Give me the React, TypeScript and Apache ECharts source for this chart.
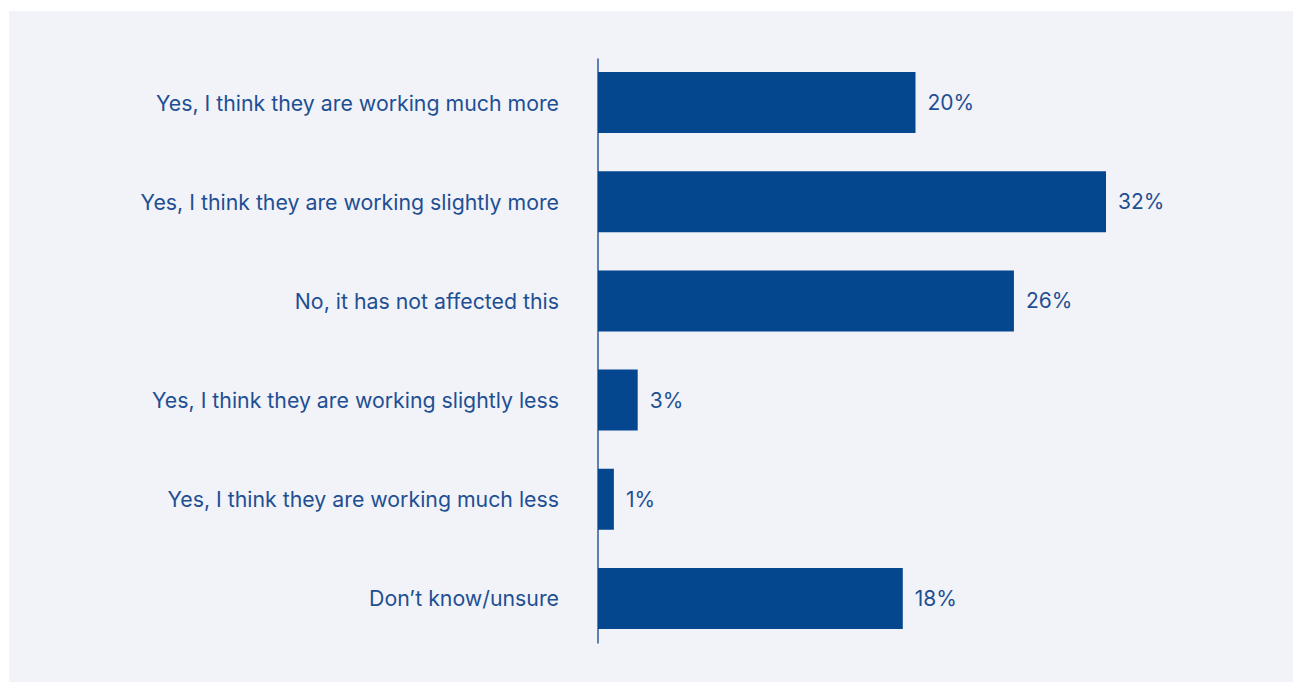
import React, { useEffect, useRef } from "react";
import * as echarts from "echarts";

const categories = [
  "Yes, I think they are working much more",
  "Yes, I think they are working slightly more",
  "No, it has not affected this",
  "Yes, I think they are working slightly less",
  "Yes, I think they are working much less",
  "Don\u2019t know/unsure",
];
// bar lengths as drawn in the picture
const values = [20, 32, 26.2, 2.5, 1, 19.2];
// printed value labels
const valueLabels = ["20%", "32%", "26%", "3%", "1%", "18%"];

export default function App() {
  const ref = useRef<HTMLDivElement>(null);
  useEffect(() => {
    if (!ref.current) return;
    const chart = echarts.init(ref.current, undefined, { renderer: "svg" });
    chart.setOption({
      animation: false,
      backgroundColor: "#f1f3f8",
      textStyle: { fontFamily: "Inter" },
      grid: [
        { left: 589, top: 42, width: 635, height: 595, containLabel: false },
        { left: 589, top: 48, width: 635, height: 584, containLabel: false },
      ],
      xAxis: [
        { type: "value", min: 0, max: 40, show: false, gridIndex: 0 },
        { type: "value", min: 0, max: 40, show: false, gridIndex: 1 },
      ],
      yAxis: [
        {
          type: "category",
          gridIndex: 0,
          data: categories,
          inverse: true,
          axisLine: { show: false },
          axisTick: { show: false },
          axisLabel: {
            color: "#1f4f93",
            fontSize: 21.3,
            fontFamily: "Inter",
            margin: 39,
            padding: [0, 0, 4, 0],
          },
          splitLine: { show: false },
        },
        {
          type: "category",
          gridIndex: 1,
          data: categories,
          inverse: true,
          axisLine: { show: true, lineStyle: { color: "#2c5a9c", width: 1.5 } },
          axisTick: { show: false },
          axisLabel: { show: false },
          splitLine: { show: false },
        },
      ],
      series: [
        {
          type: "bar",
          xAxisIndex: 0,
          yAxisIndex: 0,
          data: values,
          barWidth: 61,
          itemStyle: { color: "#05478f" },
          label: {
            show: true,
            position: "right",
            distance: 12,
            color: "#1f4f93",
            fontSize: 21,
            fontFamily: "Inter",
            padding: [0, 0, 4, 0],
            formatter: (p: any) => valueLabels[p.dataIndex],
          },
        },
      ],
    });
    return () => chart.dispose();
  }, []);
  return (
    <div
      ref={ref}
      style={{ position: "absolute", left: 9, top: 11, width: 1284, height: 671 }}
    />
  );
}
